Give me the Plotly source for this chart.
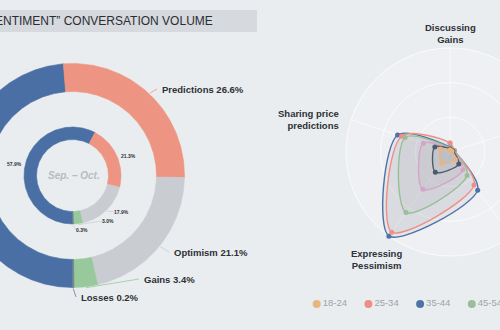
import numpy as np
import plotly.graph_objects as go

# ---------------- data ----------------
sentiments = ["Pessimism", "Predictions", "Optimism", "Gains", "Losses"]
share_total = [48.7, 26.6, 21.1, 3.4, 0.2]    # outer ring, %
share_period = [57.9, 21.3, 17.9, 3.0, 0.3]   # inner ring, %
period_label = "Sep. – Oct."
title_text = "“SENTIMENT” CONVERSATION VOLUME"

radar_axes = ["Discussing<br>Gains", "Sharing price<br>predictions", "Expressing<br>Pessimism",
              "Expressing<br>Optimism", "Discussing<br>Losses"]
age_groups = ["18-24", "25-34", "35-44", "45-54", "55-64", "65+"]
age_18_24 = [0.6, 2.9, 4.0, 2.6, 0.6]
age_25_34 = [2.6, 14.7, 28.6, 11.8, 1.4]
age_35_44 = [1.4, 15.9, 30.0, 13.6, 1.2]
age_45_54 = [1.2, 13.6, 21.6, 8.4, 1.2]
age_55_64 = [0.9, 8.1, 13.3, 6.3, 0.9]
age_65_up = [0.9, 4.6, 7.2, 4.3, 0.9]
radar_max = 30

# ---------------- style ----------------
BG = "#eaedf0"
SLICE_COLORS = ["#4a6fa5", "#ee9482", "#c9ccd1", "#97c99c", "#6e7c8c"]
AGE_COLORS = ["#e8b482", "#ee8f86", "#4f72a6", "#98bf98", "#d7a3c8", "#4d5a6c"]
FONT = "Liberation Sans"

DONUT_C = (72.5, 175.5)
OUTER_R = (84, 112)
INNER_R = (36, 48.5)
RADAR_C = (450, 152)
RADAR_R = 104

# label anchors (left edge of text) for outer ring, and centres for inner ring
outer_label_pos = [(-60, 170), (160, 89), (172, 252), (142, 279), (79, 297)]
inner_label_pos = [(14, 164), (128, 156), (121, 212), (108, 221), (82, 230)]

fig = go.Figure()


def ring(values, radii, start_deg=180.0):
    """Filled annular sectors, angles clockwise from 12 o'clock."""
    total = float(sum(values))
    cx, cy = DONUT_C
    r0, r1 = radii
    mids = []
    a = start_deg
    for v, col in zip(values, SLICE_COLORS):
        span = 360.0 * v / total
        n = max(3, int(span * 2))
        th = np.radians(np.linspace(a, a + span, n))
        xs = np.concatenate([cx + r1 * np.sin(th), cx + r0 * np.sin(th[::-1])])
        ys = np.concatenate([cy - r1 * np.cos(th), cy - r0 * np.cos(th[::-1])])
        fig.add_trace(go.Scatter(x=np.append(xs, xs[0]), y=np.append(ys, ys[0]),
                                 mode="lines", fill="toself", fillcolor=col,
                                 line=dict(width=0.6, color=col), hoverinfo="skip",
                                 showlegend=False))
        mids.append(a + span / 2)
        a += span
    return mids


outer_mid = ring(share_total, OUTER_R)
inner_mid = ring(share_period, INNER_R)

# outer labels with leader lines
for name, v, m, (lx, ly), col in zip(sentiments, share_total, outer_mid, outer_label_pos, SLICE_COLORS):
    t = np.radians(m)
    ex = DONUT_C[0] + (OUTER_R[1] + 1) * np.sin(t)
    ey = DONUT_C[1] - (OUTER_R[1] + 1) * np.cos(t)
    right = lx >= ex
    tx = lx - 3 if right else lx + 3
    fig.add_trace(go.Scatter(x=[ex, tx], y=[ey, ly], mode="lines",
                             line=dict(color=col, width=0.8), hoverinfo="skip", showlegend=False))
    fig.add_annotation(x=lx, y=ly, text=f"{name} {v}%", showarrow=False,
                       xanchor="left" if right else "right", yanchor="middle",
                       font=dict(family=FONT, size=9.5, color="#2e3136", weight="bold"))

# inner labels
for v, m, (lx, ly), idx in zip(share_period, inner_mid, inner_label_pos, range(5)):
    t = np.radians(m)
    if idx >= 2:
        ex = DONUT_C[0] + (INNER_R[1] + 1) * np.sin(t)
        ey = DONUT_C[1] - (INNER_R[1] + 1) * np.cos(t)
        fig.add_trace(go.Scatter(x=[ex, lx - 6], y=[ey, ly], mode="lines",
                                 line=dict(color="#c3c6cb", width=0.6),
                                 hoverinfo="skip", showlegend=False))
    fig.add_annotation(x=lx, y=ly, text=f"{v:.1f}%", showarrow=False,
                       font=dict(family=FONT, size=5, color="#2e3136", weight="bold"))

fig.add_annotation(x=DONUT_C[0] + 1.5, y=DONUT_C[1], text=period_label, showarrow=False,
                   font=dict(family=FONT, size=10, color="#b8bbc1", style="italic", weight="bold"))

# ---------------- radar ----------------
n_ax = len(radar_axes)
angles = np.radians(90 + 360.0 * np.arange(n_ax) / n_ax)
cx, cy = RADAR_C
scale = RADAR_R / radar_max

# split area + grid
fig.add_shape(type="circle", xref="x", yref="y", x0=cx - RADAR_R, x1=cx + RADAR_R,
              y0=cy - RADAR_R, y1=cy + RADAR_R, fillcolor="rgba(255,255,255,0.2)",
              line=dict(width=0), layer="below")
for k in (1, 2, 3):
    r = RADAR_R * k / 3
    fig.add_shape(type="circle", xref="x", yref="y", x0=cx - r, x1=cx + r, y0=cy - r, y1=cy + r,
                  line=dict(color="rgba(255,255,255,0.7)", width=1), layer="below")
for a in angles:
    fig.add_shape(type="line", xref="x", yref="y", x0=cx, y0=cy,
                  x1=cx + RADAR_R * np.cos(a), y1=cy - RADAR_R * np.sin(a),
                  line=dict(color="rgba(255,255,255,0.6)", width=1), layer="below")

series = [age_18_24, age_25_34, age_35_44, age_45_54, age_55_64, age_65_up]
order = [2, 1, 3, 4, 5, 0]
for i in order:
    vals = np.array(series[i] + [series[i][0]], dtype=float)
    ang = np.append(angles, angles[0])
    xs = cx + vals * scale * np.cos(ang)
    ys = cy - vals * scale * np.sin(ang)
    fig.add_trace(go.Scatter(x=xs, y=ys, mode="lines+markers", fill="toself",
                             fillcolor="rgba(150,150,155,0.11)",
                             line=dict(color=AGE_COLORS[i], width=1.4, shape="spline", smoothing=0.9),
                             marker=dict(size=5, color=AGE_COLORS[i]),
                             hoverinfo="skip", showlegend=False))

label_anchor = ["center", "right", "center", "left", "left"]
label_xy = [(450, 33.5), (341, 119), (376, 259), (520, 262), (566, 118)]
for txt, anc, (lx, ly) in zip(radar_axes, label_anchor, label_xy):
    fig.add_annotation(x=lx, y=ly, text=txt, showarrow=False, xanchor=anc, align=anc,
                       font=dict(family=FONT, size=9.5, color="#2e3136", weight="bold"))

# legend row
leg_x = [316.7 + 51.7 * i for i in range(len(age_groups))]
fig.add_trace(go.Scatter(x=leg_x, y=[304] * len(age_groups), mode="markers+text",
                         text=age_groups, textposition="middle right",
                         textfont=dict(family=FONT, size=9.5, color="#a0a3a8"),
                         marker=dict(size=8, color=AGE_COLORS), hoverinfo="skip",
                         showlegend=False))

# header bar + title
fig.add_shape(type="rect", xref="x", yref="y", x0=-10, x1=257, y0=10, y1=32,
              fillcolor="#d6d9de", line=dict(width=0), layer="below")
fig.add_annotation(x=215, y=21, text=title_text, showarrow=False, xanchor="right",
                   font=dict(family=FONT, size=12, color="#2a2d32"))

fig.update_layout(
    width=500, height=330, margin=dict(l=0, r=0, t=0, b=0),
    paper_bgcolor=BG, plot_bgcolor=BG,
    xaxis=dict(range=[0, 500], visible=False, fixedrange=True),
    yaxis=dict(range=[330, 0], visible=False, fixedrange=True),
)
fig.write_html("out.html")
